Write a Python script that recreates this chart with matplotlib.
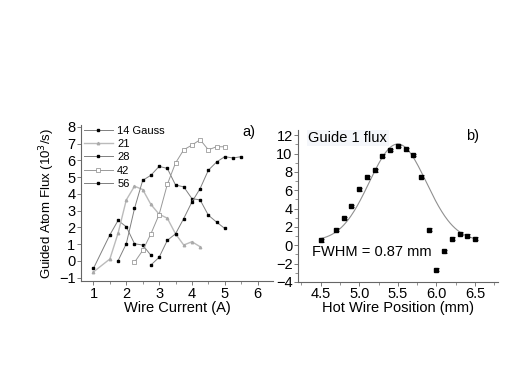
import numpy as np
import matplotlib.pyplot as plt
from matplotlib.ticker import MultipleLocator

plt.rcParams['font.family'] = ['Liberation Sans', 'DejaVu Sans']

# panel a) guided flux vs wire current, one series per field
cur_14 = [1.0, 1.5, 1.75, 2.0, 2.25, 2.5, 2.75]
flux_14 = [-0.44, 1.56, 2.42, 2.04, 1.03, 0.95, 0.34]
cur_21 = [1.0, 1.5, 1.75, 2.0, 2.25, 2.5, 2.75, 3.0, 3.25, 3.5, 3.75, 4.0, 4.25]
flux_21 = [-0.65, 0.12, 1.66, 3.64, 4.46, 4.26, 3.37, 2.79, 2.55, 1.62, 0.95, 1.15, 0.85]
cur_28 = [1.75, 2.0, 2.25, 2.5, 2.75, 3.0, 3.25, 3.5, 3.75, 4.0, 4.25, 4.5, 4.75, 5.0]
flux_28 = [0.02, 1.03, 3.13, 4.81, 5.11, 5.64, 5.52, 4.53, 4.42, 3.72, 3.64, 2.73, 2.32, 1.94]
cur_42 = [2.25, 2.5, 2.75, 3.0, 3.25, 3.5, 3.75, 4.0, 4.25, 4.5, 4.75, 5.0]
flux_42 = [-0.08, 0.63, 1.62, 2.77, 4.57, 5.84, 6.63, 6.91, 7.23, 6.63, 6.81, 6.81]
cur_56 = [2.75, 3.0, 3.25, 3.5, 3.75, 4.0, 4.25, 4.5, 4.75, 5.0, 5.25, 5.5]
flux_56 = [-0.24, 0.22, 1.23, 1.62, 2.53, 3.52, 4.32, 5.41, 5.9, 6.22, 6.14, 6.22]

# panel b) guide 1 flux vs hot wire position
pos = [4.5, 4.7, 4.8, 4.9, 5.0, 5.1, 5.2, 5.3, 5.4, 5.5,
       5.6, 5.7, 5.8, 5.9, 6.0, 6.1, 6.2, 6.3, 6.4, 6.5]
flux_b = [0.55, 1.68, 2.97, 4.28, 6.11, 7.4, 8.2, 9.78, 10.4, 10.84,
          10.48, 9.85, 7.5, 1.68, -2.67, -0.66, 0.7, 1.25, 1.03, 0.73]
flux_b_err = 0.15

# gaussian fit parameters
fit_center = 5.5
fit_fwhm = 0.87
fit_amp = 10.6
fit_offset = 0.45

fig = plt.figure(figsize=(5.26, 3.91), dpi=100)
ax1 = fig.add_axes([0.154, 0.281, 0.365, 0.399])
ax2 = fig.add_axes([0.567, 0.279, 0.380, 0.389])

line_col = '#808080'
ax1.plot(cur_14, flux_14, '-s', color=line_col, lw=0.7, ms=1.6, mfc='black', mec='black', label='14 Gauss')
ax1.plot(cur_21, flux_21, '-^', color='#bbbbbb', lw=1.0, ms=1.8, mfc='#aaaaaa', mec='#aaaaaa', label='21')
ax1.plot(cur_28, flux_28, '-s', color=line_col, lw=0.7, ms=1.6, mfc='black', mec='black', label='28')
ax1.plot(cur_42, flux_42, '-s', color='#999999', lw=0.7, ms=2.2, mfc='white', mec='#888888', mew=0.5, label='42')
ax1.plot(cur_56, flux_56, '-s', color=line_col, lw=0.7, ms=1.6, mfc='black', mec='black', label='56')

ax1.set_xlim(0.62, 6.47)
ax1.set_ylim(-1.2, 8.1)
ax1.xaxis.set_major_locator(MultipleLocator(1))
ax1.xaxis.set_minor_locator(MultipleLocator(0.5))
ax1.yaxis.set_major_locator(MultipleLocator(1))
ax1.set_xlabel('Wire Current (A)', fontsize=10.5, labelpad=0)
ax1.set_ylabel('Guided Atom Flux (10$^3$/s)', fontsize=9.5, labelpad=1)
ax1.text(0.84, 0.93, 'a)', transform=ax1.transAxes, fontsize=10.5)
ax1.legend(loc='upper left', bbox_to_anchor=(-0.02, 1.04), frameon=False, fontsize=8,
           handlelength=2.6, labelspacing=0.3, handletextpad=0.4, borderaxespad=0.2)

xs = np.linspace(4.5, 6.5, 200)
sigma = fit_fwhm / (2 * np.sqrt(2 * np.log(2)))
ax2.plot(xs, fit_offset + fit_amp * np.exp(-(xs - fit_center) ** 2 / (2 * sigma ** 2)),
         color='#909090', lw=0.8)
ax2.errorbar(pos, flux_b, yerr=flux_b_err, fmt='s', color='black', ms=2.3, capsize=1.8,
             elinewidth=0.5, capthick=0.5)

ax2.set_xlim(4.21, 6.8)
ax2.set_ylim(-4, 12.6)
ax2.xaxis.set_major_locator(MultipleLocator(0.5))
ax2.xaxis.set_minor_locator(MultipleLocator(0.25))
ax2.xaxis.set_major_formatter(plt.FormatStrFormatter('%.1f'))
ax2.yaxis.set_major_locator(MultipleLocator(2))
ax2.yaxis.set_minor_locator(MultipleLocator(1))
ax2.set_xlabel('Hot Wire Position (mm)', fontsize=10.5, labelpad=0)
ax2.text(0.84, 0.93, 'b)', transform=ax2.transAxes, fontsize=10.5)
ax2.text(0.05, 0.92, 'Guide 1 flux', transform=ax2.transAxes, fontsize=10.5,
         bbox=dict(facecolor='#f4f6fa', edgecolor='none', pad=1))
ax2.text(0.07, 0.17, 'FWHM = 0.87 mm', transform=ax2.transAxes, fontsize=10.5)

for ax in (ax1, ax2):
    for s in ('top', 'right'):
        ax.spines[s].set_visible(False)
    for s in ('left', 'bottom'):
        ax.spines[s].set_color('#666666')
        ax.spines[s].set_linewidth(0.8)
    ax.tick_params(which='major', length=3, width=0.6, color='#666666', labelsize=10.5, pad=1)
    ax.tick_params(which='minor', length=2, width=0.5, color='#666666')

fig.savefig('out.png', dpi=100)
